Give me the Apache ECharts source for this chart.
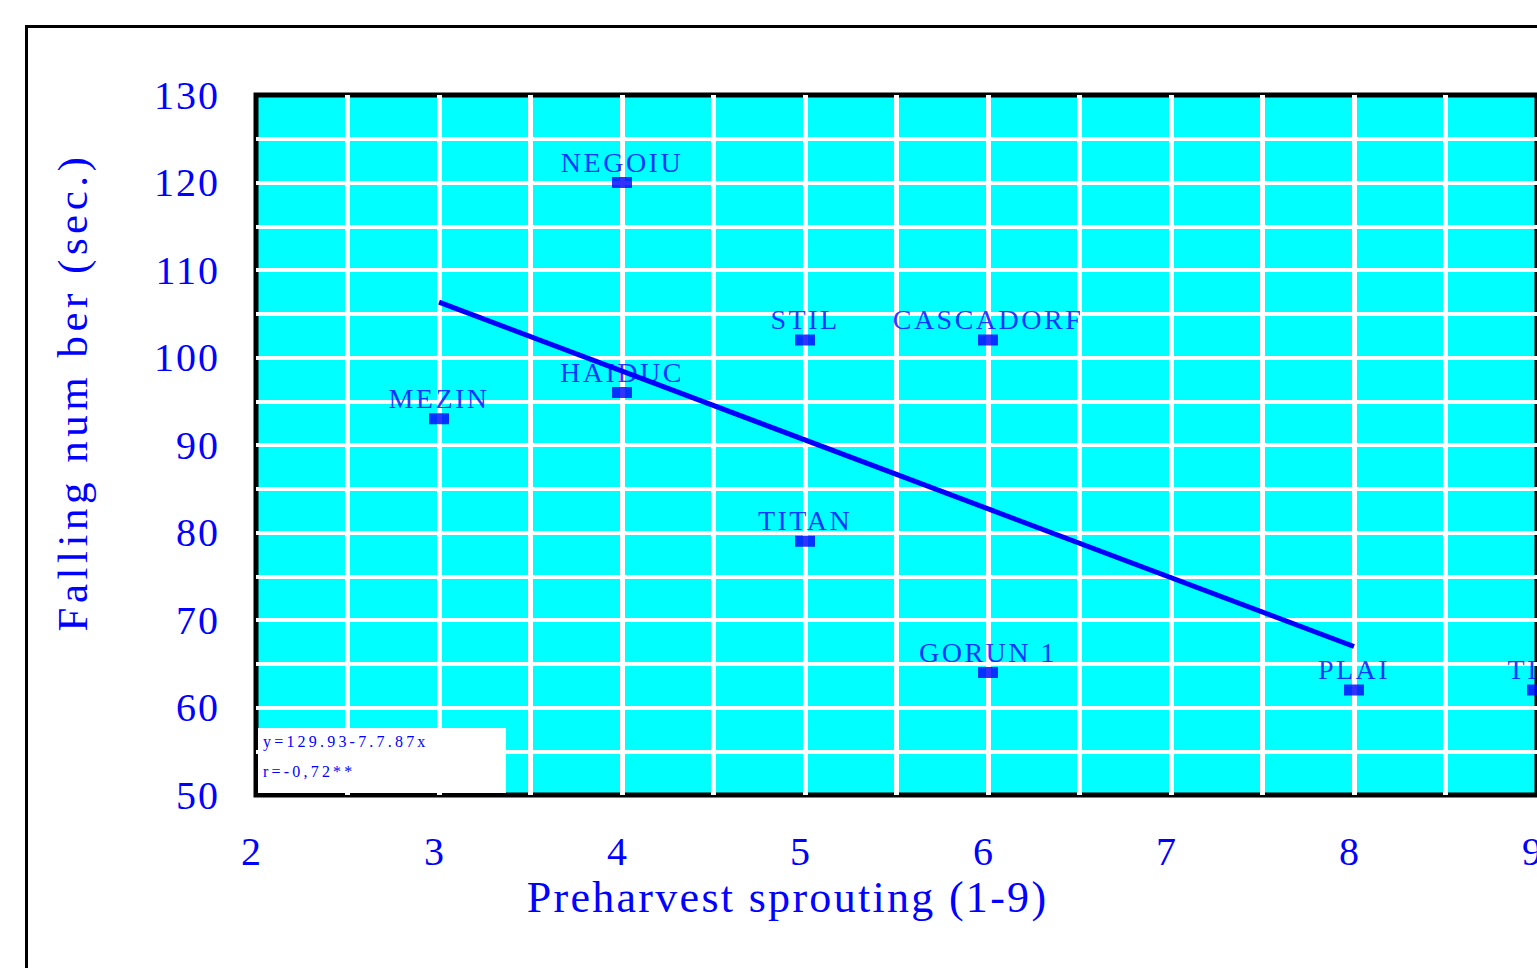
<!DOCTYPE html>
<html>
<head>
<meta charset="utf-8">
<script src="https://cdn.jsdelivr.net/npm/echarts@6/dist/echarts.min.js"></script>
<style>
  html, body { margin: 0; padding: 0; background: #fff; }
  #chart { width: 1537px; height: 968px; }
</style>
</head>
<body>
<div id="chart"></div>
<script>
// Varieties, their preharvest sprouting score and falling number
const varieties = ['MEZIN', 'NEGOIU', 'HAIDUC', 'STIL', 'TITAN', 'CASCADORF', 'GORUN 1', 'PLAI', 'TIM'];
const sprouting = [3, 4, 4, 5, 5, 6, 6, 8, 9];
const fallingNumber = [93, 120, 96, 102, 79, 102, 64, 62, 62];

// Regression line y = a - b*x drawn over the sprouting range 3..8
const trendIntercept = 129.93;
const trendSlope = 7.87;
const trendRange = [3, 8];
const equationText = 'y=129.93-7.7.87x';
const correlationText = 'r=-0,72**';

const xTitle = 'Preharvest sprouting (1-9)';
const yTitle = 'Falling num ber (sec.)';

const BLUE = '#0000ff';
const FONT = '"Liberation Serif", "Times New Roman", serif';

const points = sprouting.map((x, i) => ({ value: [x, fallingNumber[i]], name: varieties[i] }));
const trend = trendRange.map(x => [x, trendIntercept - trendSlope * x]);

const chart = echarts.init(document.getElementById('chart'), null, { renderer: 'svg' });

chart.setOption({
  animation: false,
  backgroundColor: '#fff',
  grid: {
    left: 256, top: 95, width: 1281, height: 700,
    outerBoundsMode: 'none', containLabel: false,
    show: true, backgroundColor: '#00ffff',
    borderColor: '#000', borderWidth: 5
  },
  xAxis: {
    type: 'value', min: 2, max: 9, interval: 1,
    name: xTitle, nameLocation: 'middle', nameGap: 80,
    nameTextStyle: { color: BLUE, fontFamily: FONT, fontSize: 44, padding: [0, 218, 0, 0] },
    axisLine: { show: false }, axisTick: { show: false },
    axisLabel: { color: BLUE, fontFamily: FONT, fontSize: 40, margin: 36, padding: [0, 8, 0, 0] },
    splitLine: { show: true, showMinLine: false, showMaxLine: false, lineStyle: { color: '#fff', width: 5 } },
    minorTick: { show: false, splitNumber: 2 },
    minorSplitLine: { show: true, lineStyle: { color: '#fff', width: 5 } }
  },
  yAxis: {
    type: 'value', min: 50, max: 130, interval: 10,
    name: yTitle, nameLocation: 'middle', nameGap: 162, nameRotate: 90,
    nameTextStyle: { color: BLUE, fontFamily: FONT, fontSize: 43, padding: [0, 0, 0, 106] },
    axisLine: { show: false }, axisTick: { show: false },
    axisLabel: { color: BLUE, fontFamily: FONT, fontSize: 40, margin: 36 },
    splitLine: { show: true, showMinLine: false, showMaxLine: false, lineStyle: { color: '#fff', width: 4 } },
    minorTick: { show: false, splitNumber: 2 },
    minorSplitLine: { show: true, lineStyle: { color: '#fff', width: 4 } }
  },
  series: [
    {
      type: 'scatter',
      z: 2,
      symbol: 'rect',
      symbolSize: [20, 11],
      itemStyle: { color: BLUE },
      data: points,
      label: {
        show: true, position: 'top', distance: 1,
        formatter: p => p.name,
        color: BLUE, fontFamily: FONT, fontSize: 28
      }
    },
    {
      type: 'line',
      z: 3,
      data: trend,
      symbol: 'none',
      lineStyle: { color: BLUE, width: 5 }
    }
  ],
  graphic: [
    {
      type: 'rect', z: 100,
      shape: { x: 26.5, y: 26.5, width: 1700, height: 1100 },
      style: { fill: null, stroke: '#000', lineWidth: 3 }
    },
    {
      type: 'rect', z: 100,
      shape: { x: 258, y: 728, width: 248, height: 65 },
      style: { fill: '#fff' }
    },
    {
      type: 'text', z: 101, x: 263, y: 749,
      style: { text: equationText, fill: BLUE, font: '16px ' + FONT, textVerticalAlign: 'bottom' }
    },
    {
      type: 'text', z: 101, x: 263, y: 779,
      style: { text: correlationText, fill: BLUE, font: '16px ' + FONT, textVerticalAlign: 'bottom' }
    }
  ]
});

// Spread the letters the way the original typesetting does
function spaceLetters() {
  document.querySelectorAll('#chart svg text').forEach(t => {
    const s = t.textContent;
    let gap = 2.5;
    if (s === yTitle) gap = 4.5;
    else if (s === xTitle) gap = 2.3;
    else if (s === equationText || s === correlationText) gap = 3.2;
    else if (/^\d+$/.test(s)) gap = 2;
    t.style.letterSpacing = gap + 'px';
  });
}
chart.on('finished', spaceLetters);
spaceLetters();
</script>
</body>
</html>
